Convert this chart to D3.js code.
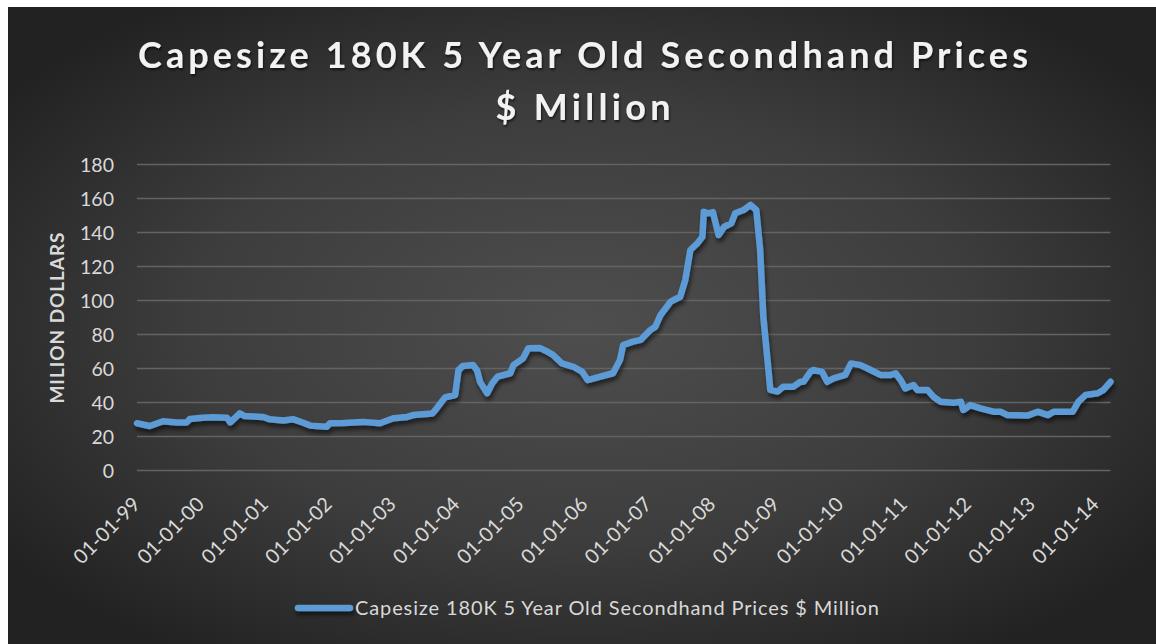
<!DOCTYPE html>
<html>
<head>
<meta charset="utf-8">
<script src="https://cdn.jsdelivr.net/npm/d3@7"></script>
<style>
  html, body { margin: 0; padding: 0; background: #ffffff; }
  svg { display: block; }
  text { font-family: Lato, "Open Sans", sans-serif; }
</style>
</head>
<body>
<svg id="chart" width="1156" height="644"></svg>
<script>
// Capesize 180K dwt, 5-year-old secondhand price, $ million
const dates = [
  "1999-01-01","1999-03-15","1999-05-30","1999-08-18","1999-10-12","1999-10-30",
  "2000-01-08","2000-03-10","2000-05-30","2000-06-17","2000-08-10","2000-09-08","2000-12-20",
  "2001-01-30","2001-04-16","2001-06-10","2001-08-08","2001-09-17","2001-12-20",
  "2002-01-08","2002-03-25","2002-07-16","2002-10-20",
  "2003-01-05","2003-03-25","2003-04-28","2003-08-15","2003-09-02","2003-10-27","2003-12-24",
  "2004-01-12","2004-02-06","2004-04-05","2004-04-27","2004-05-15","2004-06-24","2004-07-23","2004-08-22","2004-11-03","2004-11-21",
  "2005-01-15","2005-02-14","2005-04-23","2005-06-02","2005-07-05","2005-08-25","2005-10-30","2005-12-20",
  "2006-01-19","2006-04-01","2006-06-13","2006-07-23","2006-08-10","2006-10-05","2006-11-18",
  "2007-01-12","2007-02-10","2007-03-12","2007-05-08","2007-07-02","2007-07-31","2007-08-29","2007-10-08","2007-11-06","2007-11-14","2007-12-09",
  "2008-01-05","2008-02-06","2008-03-10","2008-04-19","2008-05-11","2008-06-28","2008-08-07","2008-09-09","2008-10-01","2008-10-19","2008-11-10","2008-11-28",
  "2009-01-08","2009-02-10","2009-04-09","2009-05-19","2009-06-06","2009-07-16","2009-07-31","2009-09-20","2009-10-19","2009-11-24",
  "2010-01-30","2010-03-04","2010-04-28","2010-06-25","2010-08-19","2010-10-16","2010-11-14","2010-12-13",
  "2011-01-08","2011-02-24","2011-03-18","2011-05-15","2011-06-18","2011-07-28","2011-10-13","2011-11-22","2011-12-06",
  "2012-01-15","2012-03-14","2012-05-26","2012-07-05","2012-08-14","2012-12-06",
  "2013-02-03","2013-04-02","2013-05-05","2013-08-22","2013-09-24","2013-11-03",
  "2014-01-12","2014-02-14","2014-03-26"
];
const prices = [
  27.8, 26.2, 29.0, 28.3, 28.3, 30.3,
  31.0, 31.3, 31.0, 28.3, 33.6, 32.0, 31.5,
  30.1, 29.4, 30.2, 28.1, 26.4, 25.8,
  27.8, 28.0, 28.6, 27.8,
  30.7, 31.5, 32.6, 33.5, 35.6, 43.0, 44.4,
  59.0, 61.5, 62.0, 59.0, 52.0, 45.4, 51.3, 55.2, 57.2, 62.0,
  66.0, 71.9, 72.0, 70.0, 68.0, 63.0, 61.0, 58.0,
  53.2, 55.2, 57.2, 65.0, 73.8, 75.8, 76.8,
  82.6, 84.6, 91.5, 99.3, 102.2, 112.0, 129.7, 133.6, 137.5, 152.2, 151.3,
  152.0, 138.5, 143.4, 145.4, 151.3, 153.2, 156.2, 153.2, 129.7, 90.5, 67.0, 47.4,
  46.4, 49.3, 49.3, 52.2, 52.2, 58.1, 59.1, 58.0, 52.2, 54.2,
  56.2, 63.0, 62.0, 59.1, 56.2, 56.2, 57.2, 53.2,
  48.3, 50.3, 47.4, 47.4, 43.4, 40.5, 39.9, 40.5, 35.6,
  38.5, 36.6, 34.6, 34.6, 32.6, 32.3,
  34.6, 32.6, 34.6, 34.6, 40.5, 44.4,
  45.4, 47.4, 52.2
];
const yTicks = [0, 20, 40, 60, 80, 100, 120, 140, 160, 180];
const xTickYears = [1999, 2000, 2001, 2002, 2003, 2004, 2005, 2006, 2007, 2008, 2009, 2010, 2011, 2012, 2013, 2014];
const titleLines = ["Capesize 180K 5 Year Old Secondhand Prices", "$ Million"];
const yAxisTitle = "MILION DOLLARS";
const seriesName = "Capesize 180K 5 Year Old Secondhand Prices $ Million";

const parse = d3.timeParse("%Y-%m-%d");
const series = dates.map((d, i) => ({ date: parse(d), value: prices[i] }));

const svg = d3.select("#chart");
const W = 1156, H = 644;
const plot = { left: 137, right: 1110.5, top: 164.5, bottom: 470.5 };

const defs = svg.append("defs");
const bg = defs.append("radialGradient").attr("id", "bgGrad")
  .attr("cx", "50%").attr("cy", "50%").attr("r", "62%");
bg.append("stop").attr("offset", "0%").attr("stop-color", "#4e4e4e");
bg.append("stop").attr("offset", "55%").attr("stop-color", "#3d3d3d");
bg.append("stop").attr("offset", "100%").attr("stop-color", "#222222");

// soft shadow under the series line (user-space region so flat strokes keep it too)
const lineShadow = defs.append("filter").attr("id", "lineShadow")
  .attr("filterUnits", "userSpaceOnUse")
  .attr("x", 0).attr("y", 0).attr("width", W).attr("height", H);
lineShadow.append("feDropShadow").attr("dx", 1.5).attr("dy", 4).attr("stdDeviation", 2.2)
  .attr("flood-color", "#000").attr("flood-opacity", 0.55);

const textShadow = defs.append("filter").attr("id", "textShadow")
  .attr("x", "-5%").attr("y", "-20%").attr("width", "110%").attr("height", "150%");
textShadow.append("feDropShadow").attr("dx", 1).attr("dy", 2).attr("stdDeviation", 1.2)
  .attr("flood-color", "#000").attr("flood-opacity", 0.6);

// chart area
svg.append("rect").attr("x", 8).attr("y", 7).attr("width", W - 8).attr("height", H - 7)
  .attr("fill", "url(#bgGrad)");

const x = d3.scaleTime()
  .domain([parse("1999-01-01"), parse("2014-03-26")])
  .range([plot.left, plot.right]);
const y = d3.scaleLinear().domain([0, 180]).range([plot.bottom, plot.top]);

// gridlines
svg.append("g")
  .selectAll("line").data(yTicks).join("line")
  .attr("x1", plot.left).attr("x2", plot.right)
  .attr("y1", d => y(d)).attr("y2", d => y(d))
  .attr("stroke", "#636363").attr("stroke-width", 1.3);

// y axis
const yAxis = svg.append("g").attr("transform", `translate(${plot.left - 23},0)`)
  .call(d3.axisLeft(y).tickValues(yTicks).tickSize(0).tickPadding(0));
yAxis.select(".domain").remove();
yAxis.selectAll("text").attr("fill", "#d9d9d9").attr("font-size", 19.5)
  .attr("font-family", "Lato, 'Open Sans', sans-serif").attr("dy", "0.35em");

// x axis with rotated date labels
const fmt = d3.timeFormat("%d-%m-%y");
const xAxis = svg.append("g").attr("transform", `translate(0,${plot.bottom})`)
  .call(d3.axisBottom(x).tickValues(xTickYears.map(yv => new Date(yv, 0, 1)))
    .tickFormat(fmt).tickSize(0).tickPadding(0));
xAxis.select(".domain").remove();
xAxis.selectAll("text")
  .attr("fill", "#d9d9d9").attr("font-size", 20)
  .attr("font-family", "Lato, 'Open Sans', sans-serif")
  .attr("text-anchor", "end")
  .attr("dy", null).attr("y", 0)
  .attr("transform", "translate(4,35) rotate(-45)");

// y axis title
const yTitle = svg.append("text")
  .attr("transform", "translate(64,318) rotate(-90)")
  .attr("text-anchor", "middle")
  .attr("fill", "#d9d9d9").attr("font-weight", "bold").attr("font-size", 19)
  .text(yAxisTitle);
fitWidth(yTitle, 171);

// series line
const line = d3.line().x(d => x(d.date)).y(d => y(d.value)).curve(d3.curveLinear);
svg.append("path").datum(series)
  .attr("d", line)
  .attr("fill", "none").attr("stroke", "#5b9bd5").attr("stroke-width", 6.5)
  .attr("stroke-linejoin", "round").attr("stroke-linecap", "round")
  .attr("filter", "url(#lineShadow)");

// title
const titleWidths = [890, 175];
const titleBaselines = [68, 119.5];
titleLines.forEach((t, i) => {
  const el = svg.append("text")
    .attr("x", 583).attr("y", titleBaselines[i])
    .attr("text-anchor", "middle")
    .attr("fill", "#f2f2f2").attr("font-weight", "bold").attr("font-size", 36)
    .attr("filter", "url(#textShadow)")
    .text(t);
  fitWidth(el, titleWidths[i]);
});

// legend
const legend = svg.append("g");
legend.append("line").attr("x1", 298).attr("x2", 350).attr("y1", 608).attr("y2", 608)
  .attr("stroke", "#5b9bd5").attr("stroke-width", 6.5).attr("stroke-linecap", "round")
  .attr("filter", "url(#lineShadow)");
const legendText = legend.append("text").attr("x", 355).attr("y", 615)
  .attr("fill", "#d9d9d9").attr("font-size", 20).text(seriesName);
fitWidth(legendText, 524);

// spread letters so a text spans the given width
function fitWidth(sel, target) {
  const node = sel.node();
  const n = sel.text().length;
  const w = node.getComputedTextLength();
  const ls = (target - w) / Math.max(1, n - 1);
  sel.attr("letter-spacing", ls.toFixed(2));
  if (sel.attr("text-anchor") === "middle") {
    sel.attr("dx", (ls / 2).toFixed(2));
  }
}
</script>
</body>
</html>
